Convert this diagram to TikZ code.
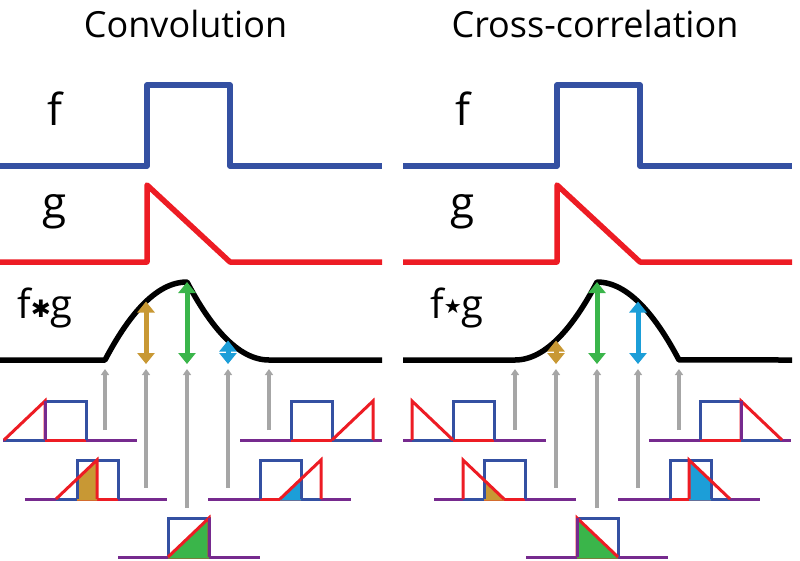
\documentclass[tikz,border=0pt]{standalone}
\usepackage{fontspec}
\setmainfont{Open Sans}
\newfontfamily\symfont{DejaVu Sans}
\usetikzlibrary{arrows.meta}
\definecolor{fblue}{RGB}{52,80,162}
\definecolor{gred}{RGB}{237,28,36}
\definecolor{fgpurple}{RGB}{118,42,142}
\definecolor{hgold}{RGB}{200,152,52}
\definecolor{hgreen}{RGB}{58,181,74}
\definecolor{hcyan}{RGB}{28,158,216}
\definecolor{hgray}{RGB}{166,166,166}
\begin{document}
\begin{tikzpicture}[x=1pt,y=-1pt,
    headtext/.style={inner sep=0pt,font=\fontsize{36}{40}\selectfont},
    funclabel/.style={inner sep=0pt,font=\fontsize{44}{48}\selectfont},
    curve/.style={line width=5.5pt,line join=round},
    small curve/.style={line width=3pt},
    grayarrow/.style={hgray,line width=3.2pt,-{Triangle[width=8pt,length=6pt]}},
    dblarrow/.style={line width=5pt,{Triangle[width=17pt,length=11pt]}-{Triangle[width=17pt,length=11pt]}}]
    \useasboundingbox (0,0) rectangle (800,560);

    % Titles
    \node[headtext,anchor=base] (convtitle) at (185.5,37) {Convolution};
    \node[headtext,anchor=base] (corrtitle) at (595,37) {Cross-correlation};

    % f and g, left
    \node[funclabel,anchor=base] (fleft) at (55,125) {f};
    \node[funclabel,anchor=base] (gleft) at (55,218) {g};
    \draw[curve,fblue] (0,166) -- (147,166) -- (147,85) -- (230,85) -- (230,166) -- (382,166);
    \draw[curve,gred] (0,262) -- (147,262) -- (147,185) -- (230,262) -- (382,262);

    % f and g, right
    \node[funclabel,anchor=base] (fright) at (463,125) {f};
    \node[funclabel,anchor=base] (gright) at (463,218) {g};
    \draw[curve,fblue] (403,166) -- (557,166) -- (557,85) -- (640,85) -- (640,166) -- (792,166);
    \draw[curve,gred] (403,262) -- (557,262) -- (557,185) -- (640,262) -- (792,262);

    % Convolution f*g
    \node[funclabel,anchor=base west,font=\fontsize{40}{44}\selectfont] (fgconv) at (17,318)
        {f\raisebox{1pt}{\symfont\fontsize{24}{24}\selectfont ✱}g};
    \draw[curve] (0,360) -- (105,360)
        -- plot[domain=0:1,samples=30,variable=\u] ({105+82*\u},{360-78*(2*\u-\u*\u)})
        -- plot[domain=0:1,samples=30,variable=\u] ({187+82*\u},{360-78*(1-\u)*(1-\u)})
        -- (382,360);

    % Cross-correlation f*g
    \node[funclabel,anchor=base west,font=\fontsize{40}{44}\selectfont] (fgcorr) at (430,318)
        {f\raisebox{5pt}{\symfont\fontsize{20}{20}\selectfont ★}g};
    \draw[curve] (403,360) -- (515,360)
        -- plot[domain=0:1,samples=30,variable=\u] ({515+82*\u},{360-78*\u*\u})
        -- plot[domain=0:1,samples=30,variable=\u] ({597+82*\u},{360-78*(1-\u*\u)})
        -- (792,360);

    % Overlap values
    \draw[dblarrow,hgold] (146,364) -- (146,301.5);
    \draw[dblarrow,hgreen] (187,364) -- (187,282);
    \draw[dblarrow,hcyan] (228,364) -- (228,340.5);
    \draw[dblarrow,hgold] (556,364) -- (556,340.5);
    \draw[dblarrow,hgreen] (597,364) -- (597,282);
    \draw[dblarrow,hcyan] (638,364) -- (638,301.5);

    % Gray arrows
    \foreach \x/\yb in {105/430,146/488,187/508,228/488,269/430}{
        \draw[grayarrow] (\x,\yb) -- (\x,369);
        \draw[grayarrow] ({\x+410},\yb) -- ({\x+410},369);
    }

    % Sliding g (reversed) over f
    \foreach \yb/\xl/\xr/\xb/\d/\c in {440/3/137/45/-41/none,499/25/167/77/-21/hgold,
        557/118/260/168/0/hgreen,499/208/351/260/20/hcyan,440/240/382/291/41/none}{
        \draw[small curve,fgpurple] (\xl,\yb) -- (\xr,\yb);
        \draw[small curve,fblue] ({\xb+(\d)},\yb) -- ({\xb+(\d)+41},\yb);
        \draw[small curve,gred] (\xb,\yb) -- ({\xb+41},\yb);
        \begin{scope}
            \clip (\xb,\yb-39) rectangle ({\xb+41},\yb+1.5);
            \fill[fill=\c] ({\xb+(\d)},\yb) -- ({\xb+(\d)+41},\yb-39)
                -- ({\xb+(\d)+41},\yb+1.5) -- ({\xb+(\d)},\yb+1.5) -- cycle;
        \end{scope}
        \draw[small curve,fblue] (\xb,\yb) -- (\xb,\yb-39) -- ({\xb+41},\yb-39) -- ({\xb+41},\yb);
        \draw[small curve,gred] ({\xb+(\d)},\yb) -- ({\xb+(\d)+41},\yb-39) -- ({\xb+(\d)+41},\yb);
    }

    % Sliding g over f
    \foreach \yb/\xl/\xr/\xb/\d/\c in {440/403/546/453/-41/none,499/434/576/484/-21/hgold,
        557/526/668/577/0/hgreen,499/618/760/670/19/hcyan,440/649/791/700/41/none}{
        \draw[small curve,fgpurple] (\xl,\yb) -- (\xr,\yb);
        \draw[small curve,fblue] ({\xb+(\d)},\yb) -- ({\xb+(\d)+41},\yb);
        \draw[small curve,gred] (\xb,\yb) -- ({\xb+41},\yb);
        \begin{scope}
            \clip (\xb,\yb-39) rectangle ({\xb+41},\yb+1.5);
            \fill[fill=\c] ({\xb+(\d)},\yb-39) -- ({\xb+(\d)+41},\yb)
                -- ({\xb+(\d)+41},\yb+1.5) -- ({\xb+(\d)},\yb+1.5) -- cycle;
        \end{scope}
        \draw[small curve,fblue] (\xb,\yb) -- (\xb,\yb-39) -- ({\xb+41},\yb-39) -- ({\xb+41},\yb);
        \draw[small curve,gred] ({\xb+(\d)},\yb) -- ({\xb+(\d)},\yb-39) -- ({\xb+(\d)+41},\yb);
    }

    % Edges where f and g meet
    \draw[small curve,fgpurple] (45,440) -- (45,401);
    \draw[small curve,fgpurple] (209,557) -- (209,518);
    \draw[small curve,fgpurple] (577,557) -- (577,518);
    \draw[small curve,fgpurple] (741,440) -- (741,401);
\end{tikzpicture}
\end{document}
